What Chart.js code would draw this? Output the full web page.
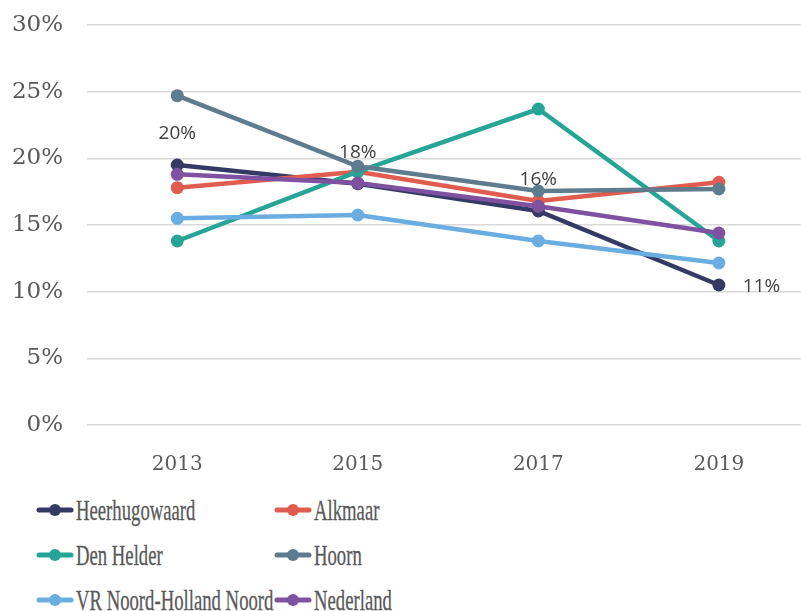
<!DOCTYPE html>
<html>
<head>
<meta charset="utf-8">
<script src="https://cdn.jsdelivr.net/npm/chart.js@4"></script>
<style>
  html, body { margin: 0; padding: 0; background: #fff; width: 801px; height: 611px; overflow: hidden; }
  #grafico { position: absolute; left: 0; top: 0; }
  #legenda { position: absolute; left: 0; top: 480px; width: 801px; height: 131px; }
  .item { position: absolute; height: 30px; display: flex; align-items: center; }
  .item svg { flex: none; }
  .item span {
    font-family: 'Liberation Serif', serif; font-size: 29px; color: #595959;
    transform: scaleX(0.645); transform-origin: left center; white-space: nowrap; margin-left: 2px;
    -webkit-text-stroke: 0.3px #595959;
  }
</style>
</head>
<body>
<canvas id="grafico" width="801" height="480"></canvas>
<div id="legenda"></div>
<script>
const ANOS = [2013, 2015, 2017, 2019];
const SERIES = ['Heerhugowaard', 'Alkmaar', 'Den Helder', 'Hoorn', 'VR Noord-Holland Noord', 'Nederland'];
const CORES = ['#353a64', '#e05c4f', '#26a596', '#5f7b8e', '#6aade0', '#7e52a0'];

const heerhugowaard = [19.5, 18.1, 16.05, 10.5];
const alkmaar = [17.8, 19.0, 16.8, 18.2];
const denHelder = [13.8, 19.0, 23.7, 13.8];
const hoorn = [24.7, 19.4, 17.55, 17.7];
const vrNhn = [15.5, 15.75, 13.8, 12.15];
const nederland = [18.8, 18.15, 16.4, 14.4];

const VALORES = [heerhugowaard, alkmaar, denHelder, hoorn, vrNhn, nederland];
const Y_TICKS = [0, 5, 10, 15, 20, 25, 30];

const rotulosHeer = {
  id: 'rotulosHeer',
  afterDatasetsDraw(chart) {
    const meta = chart.getDatasetMeta(0);
    const ctx = chart.ctx;
    ctx.save();
    ctx.font = '19px "Open Sans"';
    ctx.fillStyle = '#404040';
    ctx.textBaseline = 'middle';
    meta.data.forEach((pt, i) => {
      const txt = Math.round(heerhugowaard[i]) + '%';
      if (i === ANOS.length - 1) {
        ctx.textAlign = 'left';
        ctx.fillText(txt, pt.x + 24, pt.y + 2);
      } else {
        ctx.textAlign = 'center';
        ctx.fillText(txt, pt.x, pt.y - 31);
      }
    });
    ctx.restore();
  }
};

const datasets = SERIES.map((nome, i) => ({
  label: nome,
  data: ANOS.map((a, j) => ({ x: a, y: VALORES[i][j] })),
  borderColor: CORES[i],
  backgroundColor: CORES[i],
  borderWidth: 4.5,
  pointRadius: 6.5,
  pointBorderWidth: 0,
  pointHoverRadius: 6.5,
  tension: 0,
  order: SERIES.length - i,
}));

new Chart(document.getElementById('grafico'), {
  type: 'line',
  data: { datasets },
  options: {
    responsive: false,
    animation: false,
    events: [],
    layout: { autoPadding: false, padding: { top: 25, right: 0, left: 0, bottom: 0 } },
    plugins: { legend: { display: false }, tooltip: { enabled: false } },
    scales: {
      x: {
        type: 'linear',
        min: 2012,
        max: 2019.91,
        grid: { display: false },
        border: { display: false },
        afterBuildTicks: (s) => { s.ticks = ANOS.map((v) => ({ value: v })); },
        afterFit: (s) => { s.height = 55; s.paddingLeft = 0; s.paddingRight = 0; },
        ticks: {
          padding: 20,
          color: '#595959',
          font: { family: 'DejaVu Serif', size: 20 },
          callback: (v) => String(v),
        },
      },
      y: {
        min: 0,
        max: 30,
        afterBuildTicks: (s) => { s.ticks = Y_TICKS.map((v) => ({ value: v })); },
        afterFit: (s) => { s.width = 87; s.paddingTop = 0; s.paddingBottom = 0; },
        grid: { color: '#d9d9d9', lineWidth: 1.5, drawTicks: false },
        border: { display: false },
        ticks: {
          padding: 24,
          color: '#595959',
          font: { family: 'DejaVu Serif', size: 23 },
          callback: (v) => v + '%',
        },
      },
    },
  },
  plugins: [rotulosHeer],
});

// legenda em duas colunas
const legenda = document.getElementById('legenda');
SERIES.forEach((nome, i) => {
  const col = i % 2;
  const lin = Math.floor(i / 2);
  const div = document.createElement('div');
  div.className = 'item';
  div.style.left = (col === 0 ? 36 : 274) + 'px';
  div.style.top = (30 + lin * 45 - 15) + 'px';
  div.innerHTML =
    `<svg width="38" height="16"><line x1="3" y1="8" x2="35" y2="8" stroke="${CORES[i]}" stroke-width="5" stroke-linecap="round"/>` +
    `<circle cx="19" cy="8" r="6" fill="${CORES[i]}"/></svg><span>${nome}</span>`;
  legenda.appendChild(div);
});
</script>
</body>
</html>
